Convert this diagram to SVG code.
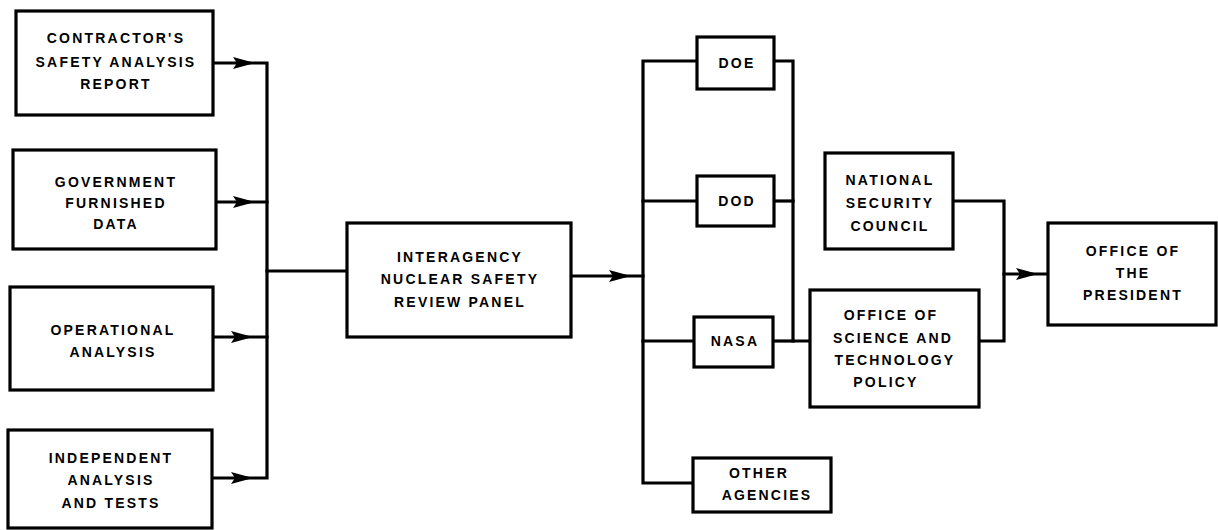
<svg xmlns="http://www.w3.org/2000/svg" xmlns:xlink="http://www.w3.org/1999/xlink" width="1218" height="530" viewBox="0 0 1218 530">
  <style>
    .box { fill: #ffffff; stroke: #000000; stroke-width: 3.2; }
    .lbl { font-family: "Liberation Sans", Arial, sans-serif; font-weight: bold; font-size: 14px; letter-spacing: 2.2px; text-anchor: middle; fill: #000000; }
    .wire { fill: none; stroke: #000000; stroke-width: 3.2; stroke-linejoin: miter; stroke-linecap: square; }
  </style>
  <defs>
    <!-- arrowhead, tip at origin pointing right -->
    <path id="ah" d="M0,0 L-22,-6 L-18,0 L-22,6 Z" fill="#000000"/>
  </defs>
  <rect width="1218" height="530" fill="#ffffff"/>

  <g id="connectors">
    <!-- inputs into the left collector bus -->
    <path class="wire" d="M213,63 H267 V478 H212"/>
    <path class="wire" d="M216,202 H267"/>
    <path class="wire" d="M213,337 H267"/>
    <path class="wire" d="M267,271 H347"/>
    <use xlink:href="#ah" x="255" y="63"/>
    <use xlink:href="#ah" x="255" y="202"/>
    <use xlink:href="#ah" x="253" y="337"/>
    <use xlink:href="#ah" x="253" y="478"/>

    <!-- panel out to agency bus -->
    <path class="wire" d="M571,276 H643"/>
    <use xlink:href="#ah" x="631" y="276"/>
    <path class="wire" d="M697,61 H643 V483 H693"/>
    <path class="wire" d="M643,201 H697"/>
    <path class="wire" d="M643,341 H694"/>

    <!-- agencies to the right bus -->
    <path class="wire" d="M774,61 H793 V341 H810"/>
    <path class="wire" d="M774,201 H793"/>
    <path class="wire" d="M773,341 H793"/>

    <!-- NSC and OSTP into the President -->
    <path class="wire" d="M953,201 H1004 V341 H979"/>
    <path class="wire" d="M1004,274 H1048"/>
    <use xlink:href="#ah" x="1038" y="274"/>
  </g>

  <g id="n-contractor">
    <rect class="box" x="16" y="11" width="197" height="104"/>
    <text class="lbl" x="116" y="43">CONTRACTOR'S</text>
    <text class="lbl" x="116" y="67">SAFETY ANALYSIS</text>
    <text class="lbl" x="116" y="89">REPORT</text>
  </g>
  <g id="n-government">
    <rect class="box" x="13" y="150" width="203" height="99"/>
    <text class="lbl" x="116" y="187">GOVERNMENT</text>
    <text class="lbl" x="116" y="208">FURNISHED</text>
    <text class="lbl" x="116" y="229">DATA</text>
  </g>
  <g id="n-operational">
    <rect class="box" x="10" y="287" width="203" height="103"/>
    <text class="lbl" x="113" y="335">OPERATIONAL</text>
    <text class="lbl" x="113" y="357">ANALYSIS</text>
  </g>
  <g id="n-independent">
    <rect class="box" x="8" y="430" width="204" height="98"/>
    <text class="lbl" x="111" y="463">INDEPENDENT</text>
    <text class="lbl" x="111" y="485">ANALYSIS</text>
    <text class="lbl" x="111" y="508">AND TESTS</text>
  </g>
  <g id="n-panel">
    <rect class="box" x="347" y="223" width="224" height="114"/>
    <text class="lbl" x="460" y="262">INTERAGENCY</text>
    <text class="lbl" x="460" y="284">NUCLEAR SAFETY</text>
    <text class="lbl" x="460" y="307">REVIEW PANEL</text>
  </g>
  <g id="n-doe">
    <rect class="box" x="697" y="37" width="77" height="52"/>
    <text class="lbl" x="737" y="68">DOE</text>
  </g>
  <g id="n-dod">
    <rect class="box" x="697" y="176" width="77" height="50"/>
    <text class="lbl" x="737" y="206">DOD</text>
  </g>
  <g id="n-nasa">
    <rect class="box" x="694" y="317" width="79" height="50"/>
    <text class="lbl" x="735" y="346">NASA</text>
  </g>
  <g id="n-other">
    <rect class="box" x="693" y="458" width="138" height="54"/>
    <text class="lbl" x="759" y="478">OTHER</text>
    <text class="lbl" x="767" y="500">AGENCIES</text>
  </g>
  <g id="n-nsc">
    <rect class="box" x="825" y="153" width="128" height="96"/>
    <text class="lbl" x="890" y="185">NATIONAL</text>
    <text class="lbl" x="890" y="208">SECURITY</text>
    <text class="lbl" x="890" y="231">COUNCIL</text>
  </g>
  <g id="n-ostp">
    <rect class="box" x="810" y="290" width="169" height="117"/>
    <text class="lbl" x="891" y="320">OFFICE OF</text>
    <text class="lbl" x="893" y="343">SCIENCE AND</text>
    <text class="lbl" x="895" y="365">TECHNOLOGY</text>
    <text class="lbl" x="886" y="387">POLICY</text>
  </g>
  <g id="n-president">
    <rect class="box" x="1048" y="223" width="168" height="102"/>
    <text class="lbl" x="1133" y="256">OFFICE OF</text>
    <text class="lbl" x="1133" y="278">THE</text>
    <text class="lbl" x="1133" y="300">PRESIDENT</text>
  </g>
</svg>
